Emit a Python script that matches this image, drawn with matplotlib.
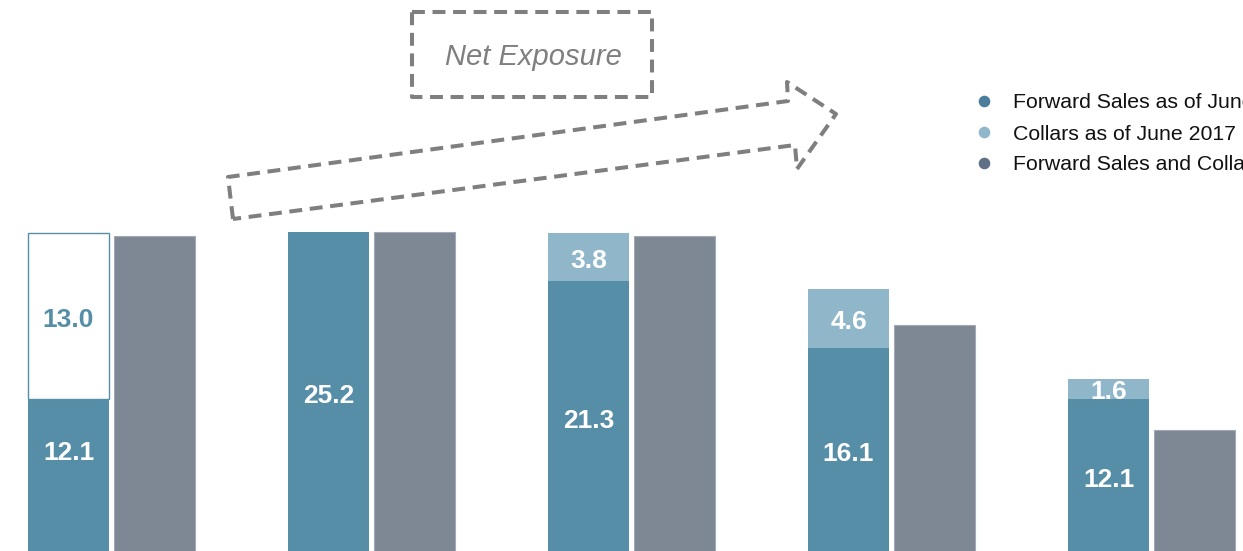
import matplotlib
matplotlib.use("Agg")
import matplotlib.pyplot as plt
import numpy as np

plt.rcParams['font.family'] = ['Liberation Sans', 'DejaVu Sans']

# Data (million units)
groups = ["G1", "G2", "G3", "G4", "G5"]
forward_sales = [12.1, 25.2, 21.3, 16.1, 12.1]
collars = [13.0, 0.0, 3.8, 4.6, 1.6]
prior_total = [24.9, 25.2, 24.9, 17.9, 9.7]
legend_labels = [
    "Forward Sales as of June 2017",
    "Collars as of June 2017",
    "Forward Sales and Collars as of June 2016",
]

BLUE = "#568EA8"
LIGHT_BLUE = "#8FB6C9"
GREY = "#7E8794"
DASH_GREY = "#7F7F7F"
MARKER_COLORS = ["#4A7E9C", "#8FB6C9", "#5E6F86"]

W, H = 1243, 551
fig = plt.figure(figsize=(W / 100, H / 100), dpi=100)
ax = fig.add_axes([0, 0, 1, 1])
ax.axis("off")

x = np.arange(len(groups))
bw = 0.3115
off = 0.1663

# Forward sales (bottom segment)
ax.bar(x - off, forward_sales, width=bw, color=BLUE, linewidth=0, zorder=2)

# Collars (top segment); the first group shows an outlined open segment
for i, (f, c) in enumerate(zip(forward_sales, collars)):
    if c <= 0:
        continue
    if i == 0:
        ax.bar(x[i] - off, c, bottom=f, width=bw, facecolor="white",
               edgecolor=BLUE, linewidth=1.0, zorder=2)
    else:
        ax.bar(x[i] - off, c, bottom=f, width=bw, color=LIGHT_BLUE,
               linewidth=0, zorder=2)

# Prior-period totals
ax.bar(x + off, prior_total, width=bw, color=GREY, edgecolor="#A3AAB5",
       linewidth=0.8, zorder=2)

ax.set_xlim(-0.4298, -0.4298 + W / 260)
ax.set_ylim(0.196, 43.34)


def value_label(xc, yc, txt, color):
    ax.annotate(txt, (xc, yc), xytext=(0, -2.6), textcoords="offset points",
                ha="center", va="center", color=color, fontsize=19,
                fontweight="bold", zorder=3)


# Value labels
for i, (f, c) in enumerate(zip(forward_sales, collars)):
    fy = f / 2 if i != 0 else f * 0.676
    value_label(x[i] - off, fy, f"{f:.1f}", "white")
    if c > 0:
        value_label(x[i] - off, f + c / 2, f"{c:.1f}",
                    BLUE if i == 0 else "white")

# Overlay in pixel space for annotations and legend
ov = fig.add_axes([0, 0, 1, 1], facecolor="none")
ov.set_xlim(0, W)
ov.set_ylim(H, 0)
ov.axis("off")

dash = (0, (3.2, 1.9))
lw = 2.9
box = [(412, 12), (652, 12), (652, 97), (412, 97), (412, 12)]
bx, by = zip(*box)
ov.plot(bx, by, color=DASH_GREY, lw=lw, linestyle=dash,
        dash_capstyle="butt")
ov.text(533, 57, "Net Exposure", ha="center", va="center", color=DASH_GREY,
        fontsize=21, style="italic")

arrow = [(233, 219), (228, 177), (788, 101), (787, 82), (836, 114),
         (797, 169), (795, 145), (233, 219)]
axx, axy = zip(*arrow)
ov.plot(axx, axy, color=DASH_GREY, lw=lw, linestyle=dash,
        dash_capstyle="butt", solid_joinstyle="miter")

# Legend
for k, (lab, col) in enumerate(zip(legend_labels, MARKER_COLORS)):
    yy = 101 + 31 * k
    ov.scatter([984], [yy], s=70, color=col, zorder=4, linewidths=0)
    ov.text(1013, yy + 2, lab, ha="left", va="center", fontsize=15.3,
            color="#111111")

fig.savefig("out.png", dpi=100)
